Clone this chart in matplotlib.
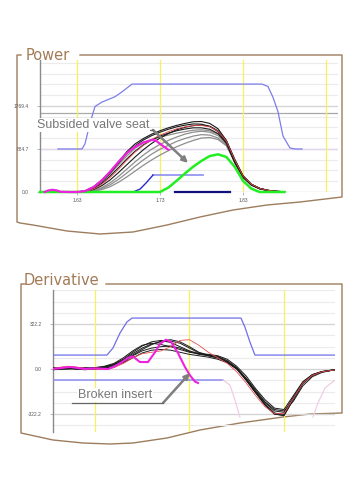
import matplotlib
matplotlib.use("Agg")
import matplotlib.pyplot as plt
from matplotlib.lines import Line2D

plt.rcParams["font.family"] = ["Liberation Sans", "DejaVu Sans"]

# ---------------- Power panel data ----------------
pw_t = [1.63, 1.64, 1.65, 1.66, 1.67, 1.68, 1.69, 1.70, 1.71, 1.72, 1.73, 1.74, 1.75,
        1.76, 1.77, 1.78, 1.79, 1.80, 1.81, 1.82, 1.83, 1.84, 1.85, 1.86, 1.87, 1.88]
pw_black = [
    [0, 30, 110, 250, 420, 620, 830, 990, 1100, 1190, 1260, 1320, 1370, 1410, 1445, 1450, 1410, 1300, 1060, 640, 330, 160, 75, 35, 15, 5],
    [0, 20, 90, 220, 390, 590, 790, 950, 1070, 1160, 1230, 1290, 1340, 1375, 1400, 1395, 1350, 1240, 1020, 620, 310, 150, 70, 30, 12, 4],
    [0, 10, 50, 130, 250, 400, 560, 720, 870, 1000, 1110, 1200, 1280, 1330, 1365, 1375, 1350, 1260, 1060, 680, 340, 160, 75, 35, 14, 5],
    [0, 15, 70, 180, 330, 500, 680, 840, 970, 1070, 1150, 1210, 1260, 1295, 1320, 1320, 1290, 1200, 1000, 600, 300, 140, 65, 30, 12, 4],
]
pw_gray = [
    [0, 5, 30, 90, 190, 320, 470, 620, 760, 880, 980, 1060, 1130, 1190, 1230, 1250, 1230, 1160, 990, 640, 320, 150, 70, 30, 12, 4],
    [0, 5, 25, 70, 150, 260, 390, 530, 660, 780, 880, 960, 1040, 1100, 1150, 1180, 1170, 1110, 960, 620, 310, 150, 70, 30, 12, 4],
    [0, 3, 15, 50, 110, 200, 310, 430, 550, 660, 760, 850, 930, 1000, 1060, 1110, 1120, 1080, 950, 640, 330, 160, 75, 35, 14, 5],
    [0, 20, 90, 210, 370, 560, 740, 900, 1010, 1080, 1130, 1170, 1210, 1240, 1270, 1280, 1260, 1190, 1010, 640, 320, 150, 70, 30, 12, 4],
]
pw_red = [0, 10, 60, 160, 300, 470, 650, 820, 960, 1080, 1170, 1240, 1300, 1340, 1365, 1370, 1340, 1250, 1050, 660, 330, 160, 75, 35, 14, 5]

pw_mag_t = [1.591, 1.595, 1.60, 1.605, 1.61, 1.62, 1.63, 1.64, 1.65, 1.66, 1.67, 1.68, 1.69,
            1.70, 1.71, 1.72, 1.725, 1.73, 1.74]
pw_mag = [0, 30, 45, 35, 5, 0, 0, 20, 100, 240, 420, 620, 800, 930, 1020, 1070, 1060, 990, 870]

pw_green_t = [1.5854, 1.73, 1.74, 1.75, 1.76, 1.77, 1.78, 1.79, 1.80, 1.81, 1.82, 1.83, 1.84, 1.85, 1.88]
pw_green = [0, 0, 90, 230, 380, 520, 640, 740, 775, 720, 520, 230, 70, 0, 0]

pw_blue_t = [1.6071, 1.636, 1.6396, 1.6457, 1.6517, 1.6601, 1.6758, 1.6842, 1.6963,
             1.8529, 1.8601, 1.8661, 1.8722, 1.8782, 1.8866, 1.893, 1.9011]
pw_blue = [884.7, 884.7, 990, 1420, 1760, 1850, 1960, 2060, 2220,
           2220, 2170, 1950, 1650, 1150, 905, 884.7, 884.7]

pw_step_t = [1.6975, 1.706, 1.714, 1.7216]
pw_step = [0, 60, 200, 350]
pw_level_t = [1.7216, 1.7818]
pw_level = [350, 350]
pw_navy_t = [1.748, 1.8143]
pw_navy = [0, 0]

pw_yticks = [0.0, 884.7, 1769.4]
pw_xticks = [1.63, 1.73, 1.83]
pw_marks = [1.63, 1.73, 1.83, 1.93]

# ---------------- Derivative panel data ----------------
dv_t = [1.586, 1.60, 1.61, 1.62, 1.63, 1.64, 1.65, 1.66, 1.67, 1.68, 1.69, 1.70, 1.71,
        1.72, 1.73, 1.74, 1.75, 1.76, 1.77, 1.78, 1.79, 1.80, 1.81, 1.82, 1.83, 1.84,
        1.85, 1.86, 1.87, 1.88, 1.884]
dv_black = [
    [5, 10, 0, -5, 5, 15, 35, 70, 120, 165, 195, 205, 190, 160, 130, 110, 100, 90, 60, 10, -70, -160, -240, -300, -310, -200, -95, -40, -18, -8, -5],
    [0, 5, 10, 5, 0, 10, 30, 60, 100, 140, 175, 200, 210, 195, 160, 120, 100, 85, 55, 5, -75, -165, -250, -315, -325, -210, -100, -45, -20, -10, -5],
    [-5, 0, 5, 10, 5, 5, 20, 50, 95, 130, 150, 160, 165, 150, 125, 105, 95, 80, 50, 0, -80, -170, -255, -320, -335, -220, -105, -45, -20, -10, -6],
    [10, 5, 0, 0, 10, 20, 40, 80, 130, 170, 185, 175, 160, 140, 120, 110, 105, 95, 70, 20, -50, -140, -220, -280, -290, -190, -90, -40, -18, -8, -4],
    [0, 0, 5, 5, 0, 5, 20, 45, 80, 115, 135, 140, 135, 120, 105, 95, 85, 70, 45, 0, -80, -170, -260, -325, -330, -215, -100, -45, -20, -10, -5],
    [5, 5, 0, 5, 10, 15, 30, 65, 110, 150, 180, 195, 200, 185, 150, 115, 95, 80, 50, 5, -65, -150, -235, -290, -300, -230, -120, -55, -25, -10, -5],
]
dv_red = [5, 20, 15, 5, 0, -5, 10, 40, 80, 110, 120, 130, 160, 205, 210, 170, 120, 80, 40, -20, -100, -190, -270, -320, -320, -210, -100, -45, -20, -10, -5]

dv_mag_t = [1.5856, 1.6035, 1.6194, 1.63, 1.6438, 1.6512, 1.6586, 1.6649, 1.6702, 1.6776,
            1.6861, 1.6935, 1.6988, 1.7051, 1.7104, 1.7178, 1.7252, 1.7305, 1.7358, 1.739]
dv_mag = [0, 15, 0, 5, 0, 20, 50, 80, 90, 50, 50, 120, 180, 210, 195, 115, 15, -45, -90, -100]

dv_upper_t = [1.5856, 1.6427, 1.649, 1.6565, 1.6638, 1.6692, 1.7845, 1.7887, 1.794, 1.7993, 1.884]
dv_upper = [100, 100, 150, 258, 337, 365, 365, 300, 193, 100, 100]
dv_lower_t = [1.5856, 1.7655]
dv_lower = [-79, -79]
dv_fade1_t = [1.7655, 1.7729, 1.7782, 1.7834]
dv_fade1 = [-79, -115, -222, -344]
dv_fade2_t = [1.8607, 1.866, 1.8734, 1.884]
dv_fade2 = [-344, -243, -136, -79]

dv_yticks = [322.2, 0.0, -322.2]
dv_marks = [1.63, 1.73, 1.83]

# frame outlines in figure pixels
frame_pw = [(21, 55), (17, 55), (17, 222), (20, 223), (33, 225), (67, 231), (100, 234), (133, 232),
            (167, 225), (200, 217), (233, 210), (267, 205), (300, 202), (342, 197), (342, 55), (80, 55)]
frame_dv = [(25, 284), (21, 284), (21, 433), (53, 440), (83, 443), (110, 444), (133, 443), (167, 438),
            (200, 430), (240, 423), (283, 417), (310, 414), (342, 413), (342, 284), (106, 284)]

BROWN = "#9d7d5e"

fig = plt.figure(figsize=(3.5, 5), dpi=100)
bg = fig.add_axes([0, 0, 1, 1])
bg.set_xlim(0, 350)
bg.set_ylim(500, 0)
bg.axis("off")
for fr in (frame_pw, frame_dv):
    bg.plot([p[0] for p in fr], [p[1] for p in fr], color=BROWN, lw=1)
bg.text(26, 60, "Power", color="#a27a55", fontsize=10.5, family="DejaVu Sans", va="baseline")
bg.text(24, 285, "Derivative", color="#a27a55", fontsize=10.5, family="DejaVu Sans", va="baseline")


def style_axes(ax, yticks, step, top, bottom):
    ax.set_facecolor("none")
    ax.set_zorder(2)
    for s in ("top", "right", "bottom"):
        ax.spines[s].set_visible(False)
    ax.spines["left"].set_color("#8a8a8a")
    ax.spines["left"].set_linewidth(1)
    v = 0.0
    while v < top:
        ax.axhline(v, color="#ebebeb", lw=0.8, zorder=0)
        v += step
    v = -step
    while v > bottom:
        ax.axhline(v, color="#ebebeb", lw=0.8, zorder=0)
        v -= step
    for y in yticks:
        ax.axhline(y, color="#d4d4d4", lw=0.9, zorder=0)
    ax.set_yticks(yticks)
    ax.set_yticklabels(["%.1f" % y for y in yticks])
    ax.tick_params(axis="both", labelsize=3.5, labelcolor="#555555", length=2,
                   width=0.5, color="#999999", pad=6)


# ---- Power ----
ax1 = fig.add_axes([40 / 350, 1 - 192 / 500, 298 / 350, 132 / 500])
ax1.set_xlim(1.5854, 1.9445)
ax1.set_ylim(0, 2715)
style_axes(ax1, pw_yticks, 884.7 / 4, 2715, 0)
ax1.axhline(884.7, color="#e4d6ee", lw=0.9, zorder=0)
ax1.axhline(1625, color="#a9a9a9", lw=0.9, zorder=0)
for m in pw_marks:
    ax1.axvline(m, color="#f7f25a", lw=0.9, zorder=1)
ax1.set_xticks(pw_xticks)
ax1.set_xticklabels(["%.2f" % x for x in pw_xticks])
ax1.tick_params(axis="x", pad=2)

ax1.plot(pw_blue_t, pw_blue, color="#7d7deb", lw=0.9, zorder=3)
for c in pw_gray:
    ax1.plot(pw_t, c, color="#8e8e8e", lw=0.9, zorder=3)
for c in pw_black:
    ax1.plot(pw_t, c, color="#1a1a1a", lw=0.8, zorder=4)
ax1.plot(pw_t, pw_red, color="#e04848", lw=0.6, zorder=4)
ax1.plot(pw_level_t, pw_level, color="#8c8cf2", lw=1.2, zorder=4)
ax1.plot(pw_step_t, pw_step, color="#2a2ad0", lw=1, zorder=4)
ax1.plot(pw_navy_t, pw_navy, color="#10107a", lw=1.6, zorder=5, clip_on=False)
ax1.plot(pw_green_t, pw_green, color="#22ee22", lw=1.8, zorder=5, clip_on=False)
ax1.plot(pw_mag_t, pw_mag, color="#ee22dd", lw=1.6, zorder=6, clip_on=False)

fig.text(37 / 350, 1 - 125 / 500, "Subsided valve seat", fontsize=9, color="#777777",
         va="center", ha="left", zorder=10,
         bbox=dict(fc="white", ec="none", pad=0.6))
fig.add_artist(Line2D([37 / 350, 153 / 350], [1 - 130 / 500] * 2, color="#666666", lw=0.9, zorder=10))
ax1.annotate("", xy=(1.7637, 597), xytext=(153 / 350, 1 - 130 / 500),
             textcoords="figure fraction", annotation_clip=False, zorder=11,
             arrowprops=dict(arrowstyle="-|>", color="#7f7f7f", lw=1.8,
                             mutation_scale=8, shrinkA=0, shrinkB=0))

# ---- Derivative ----
ax2 = fig.add_axes([53 / 350, 1 - 432 / 500, 282 / 350, 142 / 500])
ax2.set_xlim(1.5856, 1.884)
ax2.set_ylim(-451, 566)
style_axes(ax2, dv_yticks, 322.2 / 4, 566, -451)
for m in dv_marks:
    ax2.axvline(m, color="#f7f25a", lw=0.9, zorder=1)
ax2.set_xticks([])

ax2.plot(dv_upper_t, dv_upper, color="#6f6fe8", lw=0.9, zorder=3)
ax2.plot(dv_lower_t, dv_lower, color="#8c8cf0", lw=1.1, zorder=3)
ax2.plot(dv_fade1_t, dv_fade1, color="#f2cce4", lw=0.9, zorder=3)
ax2.plot(dv_fade2_t, dv_fade2, color="#f2cce4", lw=0.9, zorder=3)
for c in dv_black:
    ax2.plot(dv_t, c, color="#1a1a1a", lw=0.7, zorder=4)
ax2.plot(dv_t, dv_red, color="#e65050", lw=0.6, zorder=4)
ax2.plot(dv_mag_t, dv_mag, color="#ee22dd", lw=1.5, zorder=6)

fig.text(78 / 350, 1 - 395 / 500, "Broken insert", fontsize=9, color="#777777",
         va="center", ha="left", zorder=10,
         bbox=dict(fc="white", ec="none", pad=0.6))
fig.add_artist(Line2D([72 / 350, 163 / 350], [1 - 403 / 500] * 2, color="#666666", lw=0.9, zorder=10))
ax2.annotate("", xy=(1.7305, -29), xytext=(163 / 350, 1 - 403 / 500),
             textcoords="figure fraction", annotation_clip=False, zorder=11,
             arrowprops=dict(arrowstyle="-|>", color="#7f7f7f", lw=1.8,
                             mutation_scale=8, shrinkA=0, shrinkB=0))

fig.savefig("out.png", dpi=100)
